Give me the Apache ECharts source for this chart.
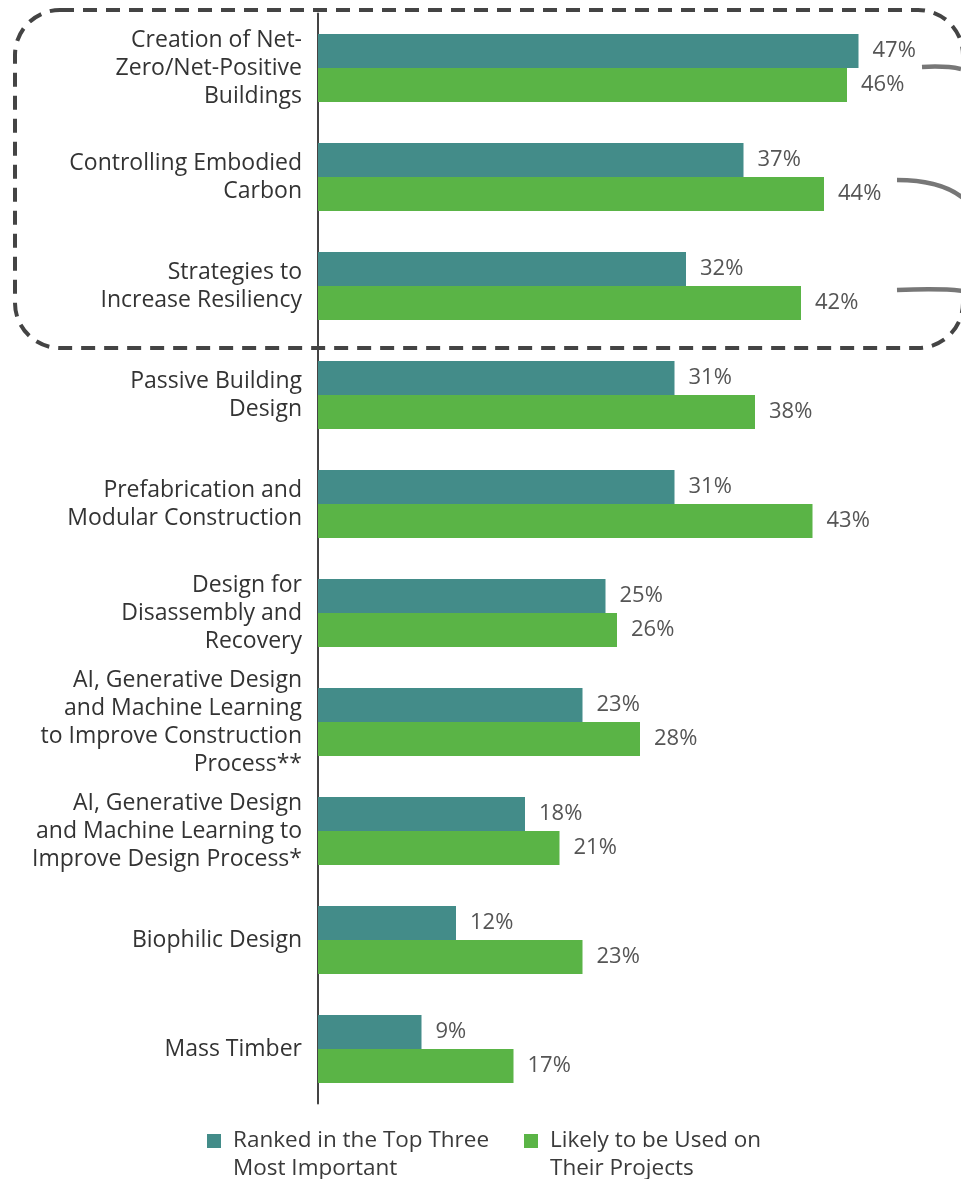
<!DOCTYPE html>
<html>
<head>
<meta charset="utf-8">
<script src="https://cdn.jsdelivr.net/npm/echarts@6/dist/echarts.min.js"></script>
<style>html,body{margin:0;padding:0;background:#fff}#c{width:961px;height:1179px}</style>
</head>
<body>
<div id="c"></div>
<script>
var categories = [
  "Creation of Net-\nZero/Net-Positive\nBuildings",
  "Controlling Embodied\nCarbon",
  "Strategies to\nIncrease Resiliency",
  "Passive Building\nDesign",
  "Prefabrication and\nModular Construction",
  "Design for\nDisassembly and\nRecovery",
  "AI, Generative Design\nand Machine Learning\nto Improve Construction\nProcess**",
  "AI, Generative Design\nand Machine Learning to\nImprove Design Process*",
  "Biophilic Design",
  "Mass Timber"
];
var seriesNames = ["Ranked in the Top Three\nMost Important", "Likely to be Used on\nTheir Projects"];
var topThree = [47, 37, 32, 31, 31, 25, 23, 18, 12, 9];
var likelyUsed = [46, 44, 42, 38, 43, 26, 28, 21, 23, 17];

var FONT = "Open Sans";
var TEAL = "#438c89", GREEN = "#5ab446";
var chart = echarts.init(document.getElementById('c'));
var labelCfg = {show: true, position: 'right', distance: 14, formatter: '{c}%', color: '#555', fontSize: 22, fontFamily: FONT};
function legendFmt(name) {
  return '{a| }\n' + name.split('\n').map(function (s) { return '{a|' + s + '}'; }).join('\n');
}
var legendText = {color: '#3a3a3a', fontSize: 22.5, lineHeight: 28, fontFamily: FONT,
  rich: {a: {color: '#3a3a3a', fontSize: 22.5, lineHeight: 28, fontFamily: FONT, padding: [0, 0, 0, 7]}}};
chart.setOption({
  animation: false,
  backgroundColor: '#fff',
  grid: {left: 318, top: 13.5, width: 632.5, height: 1090},
  xAxis: {type: 'value', min: 0, max: 55, show: false, splitLine: {show: false}},
  yAxis: {
    type: 'category', data: categories, inverse: true,
    axisLine: {show: true, lineStyle: {color: '#444', width: 2}},
    axisTick: {show: false},
    axisLabel: {margin: 16, color: '#333', fontSize: 23, lineHeight: 28, fontFamily: FONT, align: 'right', padding: [6, 0, 0, 0]}
  },
  legend: [
    {data: [seriesNames[0]], left: 202, top: 1094, icon: 'rect', itemWidth: 14, itemHeight: 14,
     formatter: legendFmt, textStyle: legendText},
    {data: [seriesNames[1]], left: 519, top: 1094, icon: 'rect', itemWidth: 14, itemHeight: 14,
     formatter: legendFmt, textStyle: legendText}
  ],
  series: [
    {name: seriesNames[0], type: 'bar', data: topThree, barWidth: 34, barGap: '0%', itemStyle: {color: TEAL}, label: labelCfg},
    {name: seriesNames[1], type: 'bar', data: likelyUsed, barWidth: 34, barGap: '0%', itemStyle: {color: GREEN}, label: labelCfg}
  ],
  graphic: [
    {type: 'rect', silent: true, z: 100, shape: {x: 15, y: 10, width: 948, height: 338, r: 45},
     style: {fill: 'none', stroke: '#444', lineWidth: 4, lineDash: [14, 9]}},
    {type: 'bezierCurve', silent: true, z: 100, shape: {x1: 922, y1: 67, x2: 961, y2: 69, cpx1: 940, cpy1: 66, cpx2: 952, cpy2: 67},
     style: {fill: 'none', stroke: '#777', lineWidth: 4.5}},
    {type: 'bezierCurve', silent: true, z: 100, shape: {x1: 897, y1: 180, x2: 963, y2: 198, cpx1: 925, cpy1: 180, cpx2: 948, cpy2: 186},
     style: {fill: 'none', stroke: '#777', lineWidth: 4.5}},
    {type: 'bezierCurve', silent: true, z: 100, shape: {x1: 897, y1: 290, x2: 963, y2: 291, cpx1: 925, cpy1: 289, cpx2: 948, cpy2: 289},
     style: {fill: 'none', stroke: '#777', lineWidth: 4.5}}
  ]
});
</script>
</body>
</html>
